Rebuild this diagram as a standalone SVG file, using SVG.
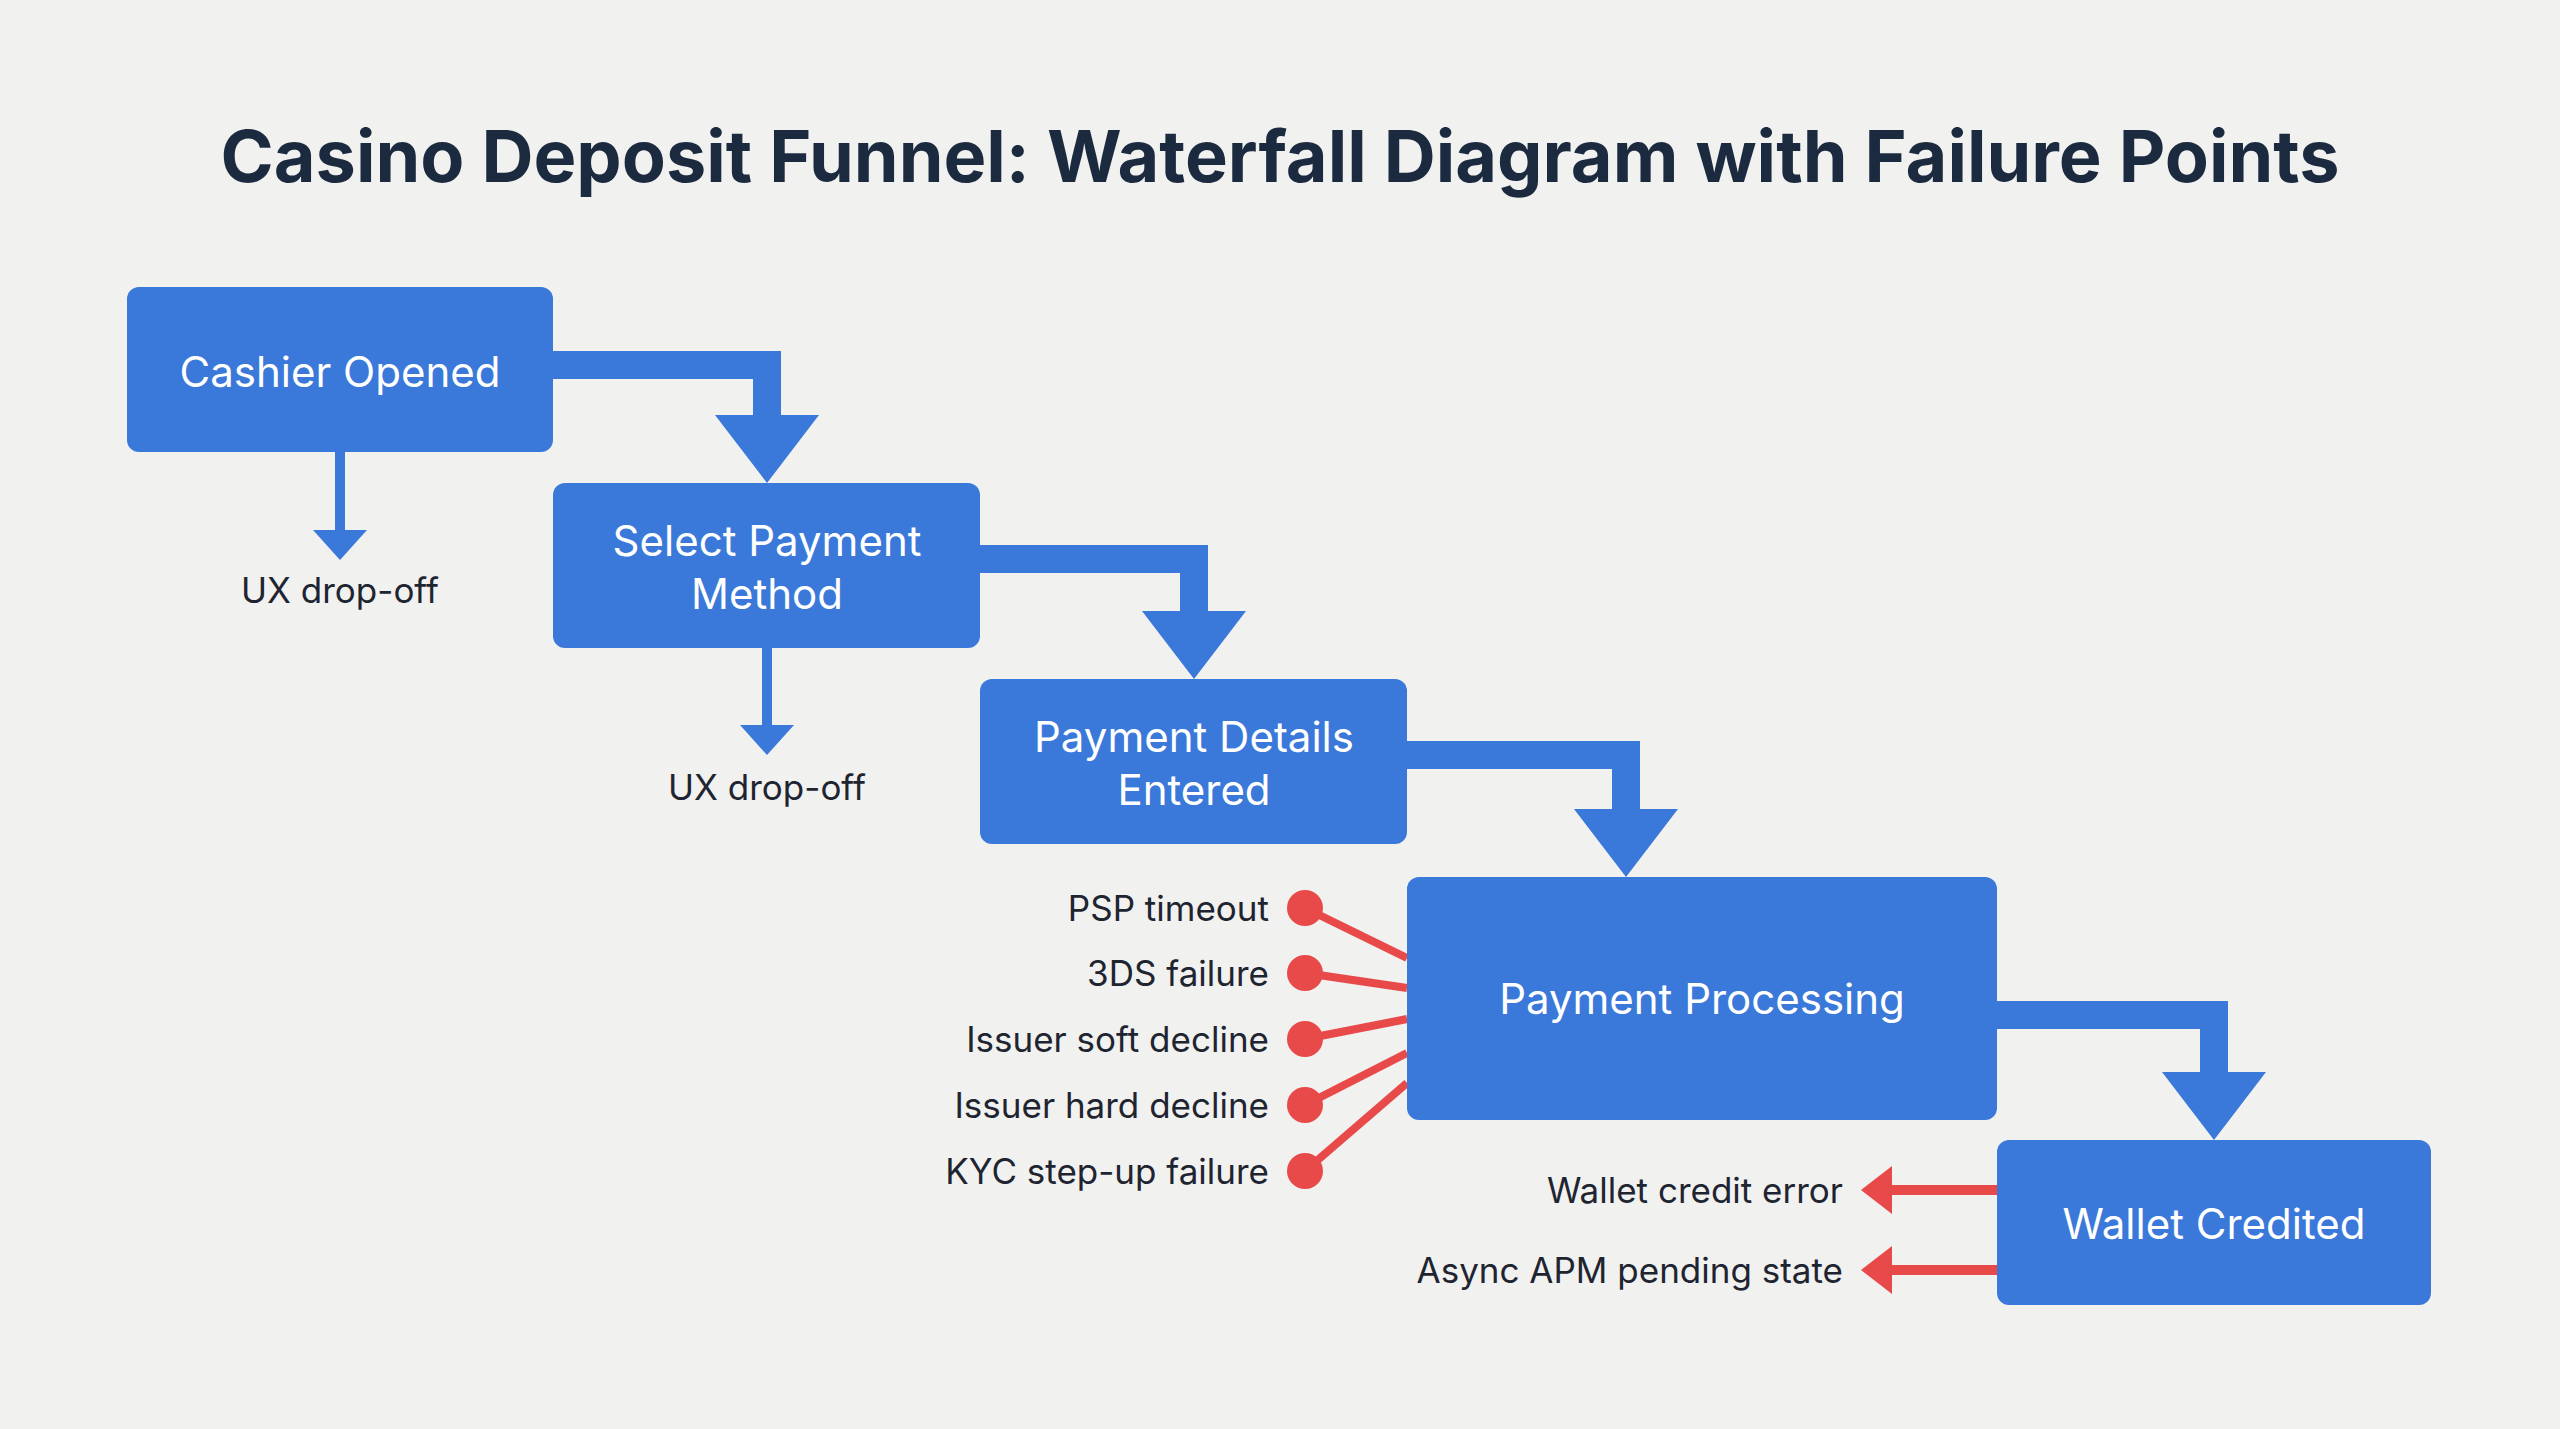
<svg xmlns="http://www.w3.org/2000/svg" width="2560" height="1429" viewBox="0 0 2560 1429">
<style>
.box{fill:#3a79d9}
.bt{fill:#fff;font-family:"Inter","Liberation Sans",sans-serif;font-size:42px;text-anchor:middle;dominant-baseline:central}
.lb{fill:#1f2530;font-family:"Inter","Liberation Sans",sans-serif;font-size:35px;dominant-baseline:central}
.fl{fill:#3a79d9}
.red{stroke:#e84a4a;stroke-width:8;fill:none}
.dot{fill:#e84a4a}
</style>
<rect width="2560" height="1429" fill="#f1f1f0"/>
<text x="1280" y="155" text-anchor="middle" dominant-baseline="central" font-family="Inter,'Liberation Sans',sans-serif" font-size="72" font-weight="700" fill="#1c2a3f">Casino Deposit Funnel: Waterfall Diagram with Failure Points</text>
<g id="connectors">
<path class="fl" d="M553 351H781V415H819L767 483L715 415H753V379H553Z"/>
<path class="fl" d="M980 545H1208V611H1246L1194 679L1142 611H1180V573H980Z"/>
<path class="fl" d="M1407 741H1640V809H1678L1626 877L1574 809H1612V769H1407Z"/>
<path class="fl" d="M1997 1001H2228V1072H2266L2214 1140L2162 1072H2200V1029H1997Z"/>
<rect class="fl" x="335" y="452" width="10" height="80"/>
<path class="fl" d="M313 530H367L340 560Z"/>
<rect class="fl" x="762" y="648" width="10" height="79"/>
<path class="fl" d="M740 725H794L767 755Z"/>
<g class="red">
<line x1="1305" y1="908" x2="1407" y2="958"/>
<line x1="1305" y1="973" x2="1407" y2="988"/>
<line x1="1305" y1="1039" x2="1407" y2="1019"/>
<line x1="1305" y1="1105" x2="1407" y2="1053"/>
<line x1="1305" y1="1171" x2="1407" y2="1083"/>
<line x1="1997" y1="1190" x2="1885" y2="1190" stroke-width="10"/>
<line x1="1997" y1="1270" x2="1885" y2="1270" stroke-width="10"/>
</g>
<g class="dot">
<circle cx="1305" cy="908" r="18"/><circle cx="1305" cy="973" r="18"/><circle cx="1305" cy="1039" r="18"/><circle cx="1305" cy="1105" r="18"/><circle cx="1305" cy="1171" r="18"/>
<path d="M1861 1190L1892 1166V1214Z"/><path d="M1861 1270L1892 1246V1294Z"/>
</g>
</g>
<g id="cashier"><rect class="box" x="127" y="287" width="426" height="165" rx="12"/><text class="bt" x="340" y="371">Cashier Opened</text></g>
<g id="select"><rect class="box" x="553" y="483" width="427" height="165" rx="12"/><text class="bt" x="767" y="540">Select Payment</text><text class="bt" x="767" y="593">Method</text></g>
<g id="details"><rect class="box" x="980" y="679" width="427" height="165" rx="12"/><text class="bt" x="1194" y="736">Payment Details</text><text class="bt" x="1194" y="789">Entered</text></g>
<g id="processing"><rect class="box" x="1407" y="877" width="590" height="243" rx="12"/><text class="bt" x="1702" y="998">Payment Processing</text></g>
<g id="wallet"><rect class="box" x="1997" y="1140" width="434" height="165" rx="12"/><text class="bt" x="2214" y="1223">Wallet Credited</text></g>
<g id="labels">
<text class="lb" x="340" y="590" text-anchor="middle">UX drop-off</text>
<text class="lb" x="767" y="787" text-anchor="middle">UX drop-off</text>
<g text-anchor="end">
<text class="lb" x="1269" y="908">PSP timeout</text>
<text class="lb" x="1269" y="973">3DS failure</text>
<text class="lb" x="1269" y="1039">Issuer soft decline</text>
<text class="lb" x="1269" y="1105">Issuer hard decline</text>
<text class="lb" x="1269" y="1171">KYC step-up failure</text>
<text class="lb" x="1843" y="1190">Wallet credit error</text>
<text class="lb" x="1843" y="1270">Async APM pending state</text>
</g>
</g>
</svg>
